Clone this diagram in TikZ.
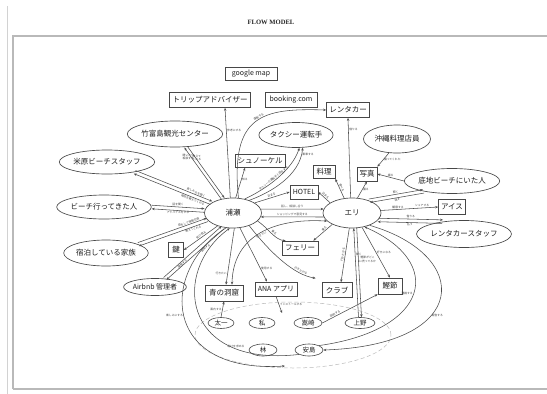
\documentclass[tikz,border=0pt]{standalone}
\usepackage{fontspec}
\newfontfamily\jpf{Noto Sans CJK JP}
\newfontfamily\ttlf{Liberation Serif}
\usetikzlibrary{shapes.geometric,arrows.meta,calc}
\newcommand\mytwoway[8]{%
 \draw[arr,transform canvas={shift={(#3,#4)}}] (#1) -- node[lbl,#5]{#6} (#2);
 \draw[arr,transform canvas={shift={({-1*(#3)},{-1*(#4)})}}] (#2) -- node[lbl,#7]{#8} (#1);}
\begin{document}
\begin{tikzpicture}[x=1pt,y=-1pt,>={Stealth[length=3pt,width=2.4pt]},
 box/.style={draw=black!72, line width=0.65pt, inner sep=0pt, text=black!88, font=\jpf\fontsize{7.5}{8}\selectfont},
 ell/.style={ellipse, draw=black!72, line width=0.65pt, inner sep=0pt, text=black!88, font=\jpf\fontsize{7.5}{8}\selectfont},
 ppl/.style={ellipse, draw=black!72, line width=0.6pt, inner sep=0pt, text=black!88, minimum height=11pt, font=\jpf\fontsize{6.5}{7}\selectfont},
 arr/.style={->, line width=0.55pt, draw=black!70},
 lbl/.style={font=\jpf\fontsize{2.8}{3.2}\selectfont, inner sep=0.6pt, text=black!75, align=center}]
\useasboundingbox (0,0) rectangle (547,394);
\fill[white] (0,0) rectangle (547,394);
\draw[gray!35, line width=0.8pt] (7,6) -- (7,394);
\draw[gray!55, line width=1.1pt] (13,389) -- (13,36) -- (547,36);
\draw[gray!55, line width=1.1pt] (13,389) -- (547,389);
\node[font=\ttlf\bfseries\fontsize{6.6}{7}\selectfont, text=black!85] (title) at (271,22) {FLOW MODEL};

% nodes
\node[box, font=\jpf\fontsize{7}{8}\selectfont, minimum width=52pt, minimum height=13pt] (gmap) at (251,74) {google map};
\node[box, minimum width=81pt, minimum height=15pt] (trip) at (210,100) {トリップアドバイザー};
\node[box, font=\jpf\fontsize{7}{8}\selectfont, minimum width=52pt, minimum height=15pt] (booking) at (291,100) {booking.com};
\node[box, minimum width=43pt, minimum height=15pt] (rentacar) at (348,110) {レンタカー};
\node[ell, minimum width=88pt, minimum height=26pt] (take) at (175,134) {竹富島観光センター};
\node[ell, minimum width=66pt, minimum height=25pt] (taxi) at (296,135) {タクシー運転手};
\node[ell, minimum width=67pt, minimum height=28pt] (okinawa) at (397,139) {沖縄料理店員};
\node[ell, minimum width=86pt, minimum height=24pt] (yonehara) at (107,162) {米原ビーチスタッフ};
\node[box, minimum width=50pt, minimum height=13pt] (snorkel) at (260,161) {シュノーケル};
\node[box, minimum width=22pt, minimum height=13pt] (ryori) at (324,172) {料理};
\node[box, minimum width=20pt, minimum height=14pt] (shashin) at (367,174) {写真};
\node[ell, minimum width=88pt, minimum height=25pt] (sokoji) at (452,181) {底地ビーチにいた人};
\node[box, font=\jpf\fontsize{7}{8}\selectfont, minimum width=28pt, minimum height=14pt] (hotel) at (304,192) {HOTEL};
\node[ell, minimum width=85pt, minimum height=24pt] (beach) at (104,207) {ビーチ行ってきた人};
\node[ell, minimum width=57pt, minimum height=30pt] (urase) at (233,213) {浦瀬};
\node[ell, minimum width=58pt, minimum height=30pt] (eri) at (352,213) {エリ};
\node[box, minimum width=27pt, minimum height=15pt] (ice) at (452,207) {アイス};
\node[ell, minimum width=85pt, minimum height=27pt] (rcstaff) at (464,234) {レンタカースタッフ};
\node[ell, minimum width=82pt, minimum height=26pt] (family) at (106,253) {宿泊している家族};
\node[box, minimum width=15pt, minimum height=15pt] (kagi) at (176,250) {鍵};
\node[box, minimum width=36pt, minimum height=14pt] (ferry) at (300,248) {フェリー};
\node[ell, font=\jpf\fontsize{7}{8}\selectfont, minimum width=60pt, minimum height=17pt] (airbnb) at (155,287) {Airbnb 管理者};
\node[box, minimum width=38pt, minimum height=16pt] (aodo) at (224,293) {青の洞窟};
\node[box, font=\jpf\fontsize{7}{8}\selectfont, minimum width=42pt, minimum height=14pt] (ana) at (276,289) {ANA アプリ};
\node[box, minimum width=30pt, minimum height=15pt] (club) at (337,290) {クラブ};
\node[box, minimum width=24pt, minimum height=16pt] (katsuo) at (390,286) {鰹節};
\node[ellipse, draw=gray!55, dashed, dash pattern=on 4pt off 2.5pt, line width=0.5pt, minimum width=196pt, minimum height=66pt] (group) at (293,335) {};
\node[ppl, minimum width=26pt] (taichi) at (221,323) {太一};
\node[ppl, minimum width=26pt] (watashi) at (262,323) {私};
\node[ppl, minimum width=28pt] (takasaki) at (308,323) {嵩崎};
\node[ppl, minimum width=30pt] (ueno) at (360,323) {上野};
\node[ppl, minimum width=28pt, minimum height=12pt] (hayashi) at (263,350) {林};
\node[ppl, minimum width=28pt, minimum height=12pt] (ajima) at (309,350) {安島};
\coordinate (anaend) at (282,313);
\coordinate (loopend) at (285,366);

% edges from urase
\draw[arr] (urase.100) -- node[lbl,pos=0.75,right]{参考にする} ([xshift=15pt]trip.south);
\draw[arr] (urase.70) .. controls (230,115) and (262,108) .. node[lbl,pos=0.55,above,sloped]{運転する} (rentacar.west);
\mytwoway{take.-50}{urase.125}{1.5pt}{0.65pt}{pos=0.2,left}{聞いたり\\相談する}{pos=0.8,right}{教えて\\くれる}
\mytwoway{yonehara.-20}{urase.155}{0.9pt}{1.55pt}{sloped,above,pos=0.78}{楽しみ方を聞く}{sloped,below,pos=0.22}{場所を教えてくれる}
\mytwoway{beach.east}{urase.175}{0pt}{1.8pt}{above}{話を聞く}{below}{アドバイスをする}
\mytwoway{family.15}{urase.-165}{-0.57pt}{1.7pt}{sloped,above,pos=0.75}{話をして情報交換}{sloped,below,pos=0.22}{教えてくれる}
\draw[arr] (urase.-140) -- node[lbl,sloped,above,pos=0.45]{受け取る} (kagi.east);
\mytwoway{airbnb.40}{urase.-125}{-1.4pt}{1.14pt}{sloped,below,pos=0.3}{連絡する}{sloped,below,pos=0.35}{説明する}
\draw[arr] (urase.80) -- node[lbl,pos=0.6,right]{知る} ([xshift=-15pt]snorkel.south);
\draw[arr] (urase.50) .. controls (268,188) and (292,170) .. node[lbl,sloped,above,pos=0.45]{タクシーの運転手と話をする} (taxi.-75);
\draw[arr] (urase.38) .. controls (272,192) and (300,175) .. node[lbl,pos=0.92,right]{乗車する} (taxi.-62);
\draw[arr] (urase.25) -- node[lbl,sloped,above]{泊まる} (hotel.west);
\draw[arr] (urase.8) -- node[lbl,above]{話し、相談し合う} (eri.172);
\draw[arr] (eri.-172) -- node[lbl,above]{ショッピングで意見する} (urase.-8);
\draw[arr] (urase.-85) -- node[lbl,pos=0.8,left]{行きたい} ([xshift=2pt]aodo.north);
\draw[arr] (urase.-65) -- node[lbl,pos=0.75,right]{使用する} ([xshift=-9pt]ana.north);
\draw[arr] (urase.-38) .. controls (272,255) and (295,275) .. node[lbl,pos=0.75,above,sloped]{行きたがる} ([xshift=-6pt,yshift=4pt]club.north west);
\draw[arr] (urase.-18) .. controls (268,228) and (275,240) .. node[lbl,pos=0.55,above,sloped]{乗る} ([xshift=4pt]ferry.north west);

% edges from eri
\draw[arr] (eri.-150) -- node[lbl,pos=0.35,above,sloped]{乗る} ([xshift=-5pt]ferry.north east);
\draw[arr,<->] (eri.-162) .. controls (275,218) and (233,235) .. node[lbl,pos=0.5,below,sloped]{行きたい} ([xshift=8pt]aodo.north);
\draw[arr] (eri.95) -- node[lbl,pos=0.85,right]{借りる} (rentacar.south);
\draw[arr] (eri.118) -- node[lbl,sloped,above]{食べる} (ryori.south east);
\draw[arr] (eri.155) -- node[lbl,sloped,above]{泊まる} (hotel.east);
\draw[arr] (eri.70) -- node[lbl,pos=0.5,right]{撮る} (shashin.south);
\draw[arr] (okinawa.-120) -- node[lbl,right]{撮ってくれた} (shashin.north east);
\draw[arr] (sokoji.west) -- node[lbl,above]{撮る} (shashin.east);
\mytwoway{eri.35}{sokoji.200}{-0.6pt}{1.7pt}{sloped,above}{聞く}{sloped,below}{話す}
\draw[arr] (eri.5) -- node[lbl,pos=0.3,above]{観察する} node[lbl,pos=0.72,above]{シェアする} (ice.west);
\mytwoway{eri.-15}{rcstaff.150}{0.42pt}{1.75pt}{sloped,above}{借りる}{sloped,below}{払う}
\draw[arr] (eri.-100) -- node[lbl,pos=0.5,above,sloped]{行きたがる} ([xshift=4pt]club.north);
\mytwoway{eri.-78}{ueno.north}{1.5pt}{0pt}{pos=0.35,right}{鰹節がどこ\\に売ってるか}{pos=0.7,right}{聞く}
\draw[arr] (eri.-55) -- node[lbl,pos=0.5,right]{好きになる} (katsuo.north);
\draw[arr] (takasaki.east) -- node[lbl,pos=0.25,above,sloped]{説明する} (katsuo.south west);
\draw[arr] (ana.south) -- node[lbl,right]{インストールする} (anaend);
\draw[arr] (taichi.north) -- node[lbl,left]{案内する} (aodo.south);

% big loops
\draw[arr] (eri.-35) .. controls (472,255) and (472,345) .. node[lbl,pos=0.62,right]{報告する} (ajima.east);
\draw[arr] (ajima.north east) .. controls (430,330) and (445,262) .. node[lbl,pos=0.5,left]{連絡する} (eri.-48);
\draw[arr] (urase.-115) .. controls (160,270) and (160,374) .. node[lbl,pos=0.5,left]{楽しみにする} (loopend);
\draw[arr] (ajima.south west) .. controls (180,368) and (172,270) .. node[lbl,pos=0.22,above]{助けを求める} (urase.-102);
\end{tikzpicture}
\end{document}
